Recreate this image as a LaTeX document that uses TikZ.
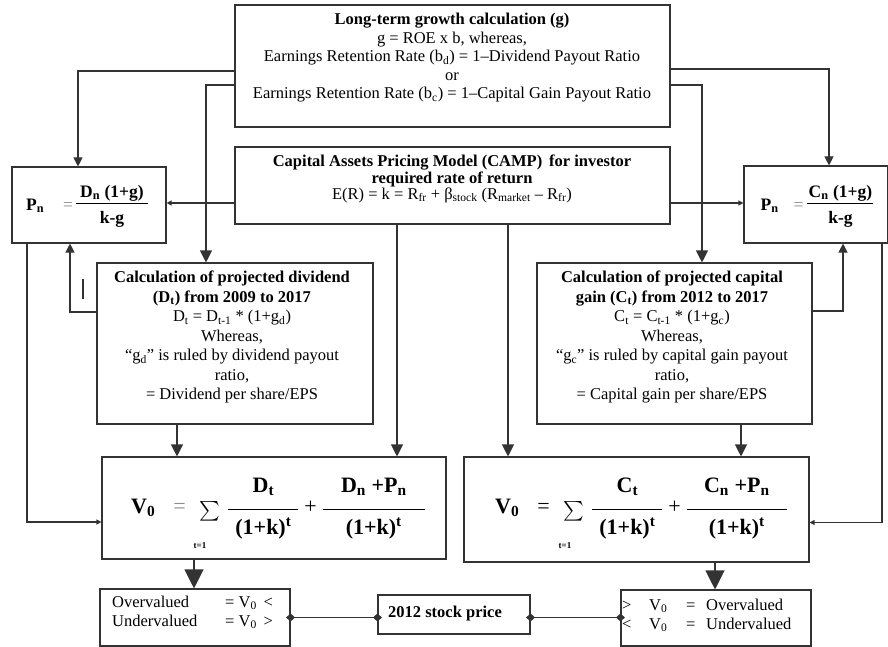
\documentclass[tikz,border=0pt]{standalone}
\usepackage{fontspec}
\setmainfont{Liberation Serif}
\usepackage{graphicx}
\usetikzlibrary{arrows.meta}
\setlength{\arrayrulewidth}{1.1pt}
\newcommand{\vfr}[5]{\begin{tabular}[c]{@{}c@{}}\makebox[#1]{#3}\\[#2]\hline\rule{0pt}{#5}#4\end{tabular}}
\newcommand{\bigsum}{\raisebox{-8pt}{\resizebox{!}{20pt}{$\sum$}}}
\begin{document}
\begin{tikzpicture}[x=1pt,y=-1pt,
  box/.style={draw=black!80, line width=1.1pt, inner sep=0pt, rectangle},
  con/.style={draw=black!80, line width=1.1pt},
  aS/.style={con,-{Triangle[width=5pt,length=5pt]}},
  aM/.style={con,-{Triangle[width=9pt,length=9pt]}},
  aL/.style={con,-{Triangle[width=12pt,length=12pt]}},
  aXL/.style={con,-{Triangle[width=19pt,length=19pt]}},
  dia/.style={con,{Diamond[width=8pt,length=9pt]}-{Diamond[width=8pt,length=9pt]}, shorten <=-4.5pt, shorten >=-4.5pt},
  txt/.style={font=\fontsize{16.5}{19}\selectfont, align=center, inner sep=0pt},
  frm/.style={inner sep=0pt, font=\fontsize{17.5}{21}\selectfont\bfseries},
  vfm/.style={inner sep=0pt, font=\fontsize{22}{26}\selectfont\bfseries}
]
\useasboundingbox (0,0) rectangle (888,647);

% boxes
\node[box, minimum width=435pt, minimum height=122pt] (G)  at (452.5,66) {};
\node[box, minimum width=435pt, minimum height=77pt]  (K)  at (452.5,185.5) {};
\node[box, minimum width=154pt, minimum height=76pt]  (PL) at (89,205) {};
\node[box, minimum width=144pt, minimum height=77pt]  (PR) at (816,204.5) {};
\node[box, minimum width=276pt, minimum height=161pt] (DL) at (235,343.5) {};
\node[box, minimum width=275pt, minimum height=161pt] (CR) at (674.5,343.5) {};
\node[box, minimum width=344pt, minimum height=102pt] (VL) at (274,508) {};
\node[box, minimum width=345pt, minimum height=105pt] (VR) at (636.5,509.5) {};
\node[box, minimum width=190pt, minimum height=57pt]  (BL) at (195,617.5) {};
\node[box, minimum width=152pt, minimum height=39pt]  (SP) at (454,614.5) {};
\node[box, minimum width=190pt, minimum height=56pt]  (BR) at (716,618) {};

% texts
\node[txt, font=\fontsize{16.5}{18.5}\selectfont] (Gt) at (452,58) {\textbf{Long-term growth calculation (g)}\\
g = ROE x b, whereas,\\
Earnings Retention Rate (b\textsubscript{d}) = 1–Dividend Payout Ratio\\
or\\
Earnings Retention Rate (b\textsubscript{c}) = 1–Capital Gain Payout Ratio};

\node[txt, font=\fontsize{16.5}{15}\selectfont] (Kt) at (452,179) {\textbf{Capital Assets Pricing Model (CAMP)\, for investor}\\
\textbf{required rate of return}\\
E(R) = k = R\textsubscript{fr} + β\textsubscript{stock} (R\textsubscript{market} – R\textsubscript{fr})};

\node[frm] (PLt) at (87,206) {P\textsubscript{n}\hspace{19pt}{\mdseries\color{black!45}=}\hspace{3pt}\vfr{72pt}{0pt}{D\textsubscript{n} (1+g)}{k-g}{19pt}};
\node[frm] (PRt) at (817,206) {P\textsubscript{n}\hspace{15pt}{\mdseries\color{black!45}=}\hspace{4pt}\vfr{66pt}{0pt}{C\textsubscript{n} (1+g)}{k-g}{19pt}};

\node[txt, font=\fontsize{16.5}{19.5}\selectfont] (DLt) at (232,337) {\textbf{Calculation of projected dividend}\\
\textbf{(D\textsubscript{t}) from 2009 to 2017}\\
D\textsubscript{t} = D\textsubscript{t-1} * (1+g\textsubscript{d})\\
Whereas,\\
“g\textsubscript{d}” is ruled by dividend payout\\
ratio,\\
= Dividend per share/EPS};

\node[txt, font=\fontsize{16.5}{19.5}\selectfont] (CRt) at (672,337) {\textbf{Calculation of projected capital}\\
\textbf{gain (C\textsubscript{t}) from 2012 to 2017}\\
C\textsubscript{t} = C\textsubscript{t-1} * (1+g\textsubscript{c})\\
Whereas,\\
“g\textsubscript{c}” is ruled by capital gain payout\\
ratio,\\
= Capital gain per share/EPS};

\node[vfm] (VLt) at (278,508) {V\textsubscript{0}\hspace{18pt}{\mdseries\color{black!45}=}\hspace{14pt}\bigsum\hspace{8pt}\vfr{70pt}{9pt}{D\textsubscript{t}}{(1+k)\textsuperscript{t}}{24pt}\hspace{6pt}{\mdseries +}\hspace{6pt}\vfr{102pt}{9pt}{D\textsubscript{n} +P\textsubscript{n}}{(1+k)\textsuperscript{t}}{24pt}};
\node[vfm] (VRt) at (641,508) {V\textsubscript{0}\hspace{18pt}{\mdseries =}\hspace{14pt}\bigsum\hspace{8pt}\vfr{70pt}{9pt}{C\textsubscript{t}}{(1+k)\textsuperscript{t}}{24pt}\hspace{6pt}{\mdseries +}\hspace{6pt}\vfr{100pt}{9pt}{C\textsubscript{n} +P\textsubscript{n}}{(1+k)\textsuperscript{t}}{24pt}};
\node[inner sep=0pt, font=\fontsize{9}{10}\selectfont\bfseries] (tL) at (200,546) {t=1};
\node[inner sep=0pt, font=\fontsize{9}{10}\selectfont\bfseries] (tR) at (565,546) {t=1};

\node[txt, align=left, anchor=west] (BLt) at (112,612.5) {\makebox[113pt][l]{Overvalued}= V\textsubscript{0} \,<\\
\makebox[113pt][l]{Undervalued}= V\textsubscript{0} \,>};
\node[txt] (SPt) at (445,614) {\textbf{2012 stock price}};
\node[txt, align=left, anchor=west] (BRt) at (622,615.5) {\makebox[27pt][l]{>}\makebox[37pt][l]{V\textsubscript{0}}\makebox[20pt][l]{=}Overvalued\\
\makebox[27pt][l]{<}\makebox[37pt][l]{V\textsubscript{0}}\makebox[20pt][l]{=}Undervalued};

% connectors
\draw[aM] ([yshift=-5pt]G.west) -| ([xshift=-11pt]PL.north);
\draw[aL] ([yshift=-19pt]G.west) -| ([xshift=-29pt]DL.north);
\draw[aM] ([yshift=-3pt]G.east) -| ([xshift=13pt]PR.north);
\draw[aL] ([yshift=-19pt]G.east) -| ([xshift=27.5pt]CR.north);
\draw[aS] ([yshift=-17.5pt]K.west) -- ([yshift=-17.5pt]K.west -| PL.east);
\draw[aS] ([yshift=-17.5pt]K.east) -- ([yshift=-17.5pt]K.east -| PR.west);
\draw[aL] ([xshift=123pt]VL.north |- K.south) -- ([xshift=123pt]VL.north);
\draw[aL] ([xshift=-128.5pt]VR.north |- K.south) -- ([xshift=-128.5pt]VR.north);
\draw[aL] ([xshift=-58pt]DL.south) -- ([xshift=-58pt]DL.south |- VL.north);
\draw[aL] ([xshift=66.5pt]CR.south) -- ([xshift=66.5pt]CR.south |- VR.north);
\draw[aM] ([yshift=31.5pt]DL.west) -| ([xshift=-19pt]PL.south);
\draw[con] (83,279) -- (83,299);
\draw[aM] ([yshift=32.5pt]CR.east) -| ([xshift=27pt]PR.south);
\draw[aS] ([xshift=-62pt]PL.south) |- ([yshift=-14pt]VL.west);
\draw[aS] ([xshift=66pt]PR.south) |- ([yshift=-13pt]VR.east);
\draw[aXL] ([xshift=-80pt]VL.south) -- ([xshift=-80pt]VL.south |- BL.north);
\draw[aXL] ([xshift=78.5pt]VR.south) -- ([xshift=78.5pt]VR.south |- BR.north);
\draw[dia] (BL.east) -- (BL.east -| SP.west);
\draw[dia] (BL.east -| SP.east) -- (BL.east -| BR.west);
\end{tikzpicture}
\end{document}
